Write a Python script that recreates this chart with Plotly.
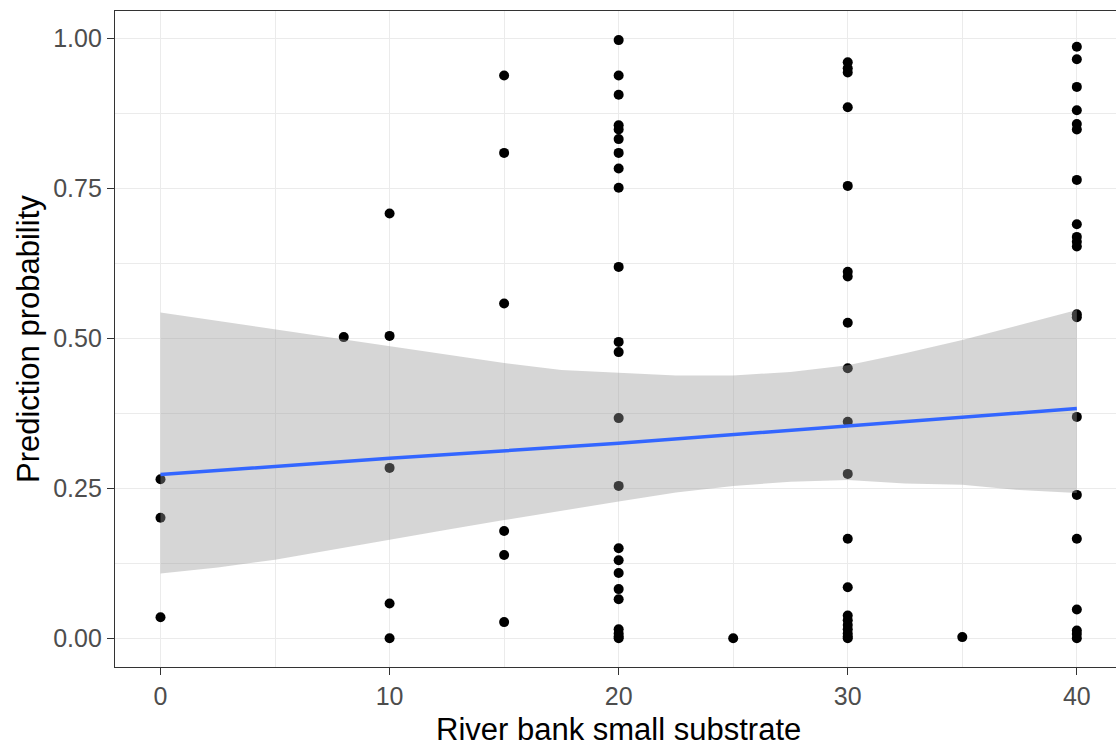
import plotly.graph_objects as go

# ---- data ----
x0_vals = [0.265, 0.201, 0.035]
x8_vals = [0.502]
x10_vals = [0.708, 0.504, 0.284, 0.058, 0.0]
x15_vals = [0.938, 0.809, 0.558, 0.179, 0.139, 0.027]
x20_vals = [0.997, 0.938, 0.906, 0.855, 0.848, 0.832, 0.809, 0.783, 0.751, 0.619,
            0.494, 0.477, 0.367, 0.254, 0.150, 0.130, 0.109, 0.082, 0.065,
            0.015, 0.008, 0.003, 0.0]
x25_vals = [0.0]
x30_vals = [0.960, 0.950, 0.943, 0.885, 0.754, 0.611, 0.603, 0.526, 0.450, 0.361,
            0.274, 0.166, 0.085, 0.038, 0.030, 0.022, 0.015, 0.008, 0.003, 0.0]
x35_vals = [0.002]
x40_vals = [0.986, 0.965, 0.919, 0.880, 0.857, 0.848, 0.764, 0.690, 0.669, 0.661,
            0.653, 0.540, 0.535, 0.369, 0.239, 0.166, 0.048, 0.013, 0.007, 0.0]

groups = {0: x0_vals, 8: x8_vals, 10: x10_vals, 15: x15_vals, 20: x20_vals,
          25: x25_vals, 30: x30_vals, 35: x35_vals, 40: x40_vals}

fit_x = [0, 10, 20, 30, 40]
fit_y = [0.273, 0.300, 0.325, 0.354, 0.383]

band_x = [0, 2.5, 5, 7.5, 10, 12.5, 15, 17.5, 20, 22.5, 25, 27.5, 30, 32.5, 35, 37.5, 40]
band_upper = [0.543, 0.529, 0.515, 0.500, 0.486, 0.472, 0.459, 0.447, 0.443, 0.438,
              0.438, 0.444, 0.455, 0.475, 0.497, 0.522, 0.547]
band_lower = [0.108, 0.118, 0.131, 0.147, 0.164, 0.181, 0.197, 0.213, 0.228, 0.243,
              0.254, 0.261, 0.264, 0.258, 0.256, 0.247, 0.242]

x_ticks = [0, 10, 20, 30, 40]
x_minor = [5, 15, 25, 35]
y_ticks = [0, 0.25, 0.5, 0.75, 1.0]
y_tick_text = ["0.00", "0.25", "0.50", "0.75", "1.00"]
y_minor = [0.125, 0.375, 0.625, 0.875]

px, py = [], []
for k, vals in groups.items():
    px += [k] * len(vals)
    py += vals

FONT = "Liberation Sans, Arial, sans-serif"

fig = go.Figure()
fig.add_trace(go.Scatter(x=px, y=py, mode="markers",
                         marker=dict(color="black", size=10, line=dict(width=0)),
                         showlegend=False, hoverinfo="skip"))
fig.add_trace(go.Scatter(x=band_x + band_x[::-1], y=band_upper + band_lower[::-1],
                         mode="lines", fill="toself",
                         fillcolor="rgba(153,153,153,0.4)", line=dict(width=0),
                         showlegend=False, hoverinfo="skip"))
fig.add_trace(go.Scatter(x=fit_x, y=fit_y, mode="lines",
                         line=dict(color="#3366FF", width=3.5),
                         showlegend=False, hoverinfo="skip"))

axis_common = dict(
    showgrid=True, gridcolor="#EBEBEB", gridwidth=1.4,
    zeroline=False, showline=True, linecolor="#333333", linewidth=1.4,
    ticks="outside", ticklen=7, tickwidth=1.3, tickcolor="#333333",
    tickfont=dict(family=FONT, size=25, color="#4D4D4D"),
)

fig.update_layout(
    width=1116, height=747,
    margin=dict(l=115, r=0, t=11, b=80),
    paper_bgcolor="white", plot_bgcolor="white",
    font=dict(family=FONT),
    xaxis=dict(range=[-1.986, 41.71], tickvals=x_ticks, mirror=True,
               minor=dict(tickvals=x_minor, showgrid=True, gridcolor="#EBEBEB",
                          gridwidth=0.9, ticks=""),
               **axis_common),
    yaxis=dict(range=[-0.0478, 1.0455], tickvals=y_ticks, ticktext=y_tick_text,
               minor=dict(tickvals=y_minor, showgrid=True, gridcolor="#EBEBEB",
                          gridwidth=0.9, ticks=""),
               **axis_common),
    annotations=[
        dict(text="River bank small substrate", xref="x", yref="paper",
             x=20, y=-0.096, xanchor="center", yanchor="middle", showarrow=False,
             font=dict(family=FONT, size=31, color="black")),
        dict(text="Prediction probability", xref="paper", yref="paper",
             x=-0.0869, y=0.5, xanchor="center", yanchor="middle", showarrow=False,
             textangle=-90, font=dict(family=FONT, size=31, color="black")),
    ],
)

fig.write_html("out.html")
